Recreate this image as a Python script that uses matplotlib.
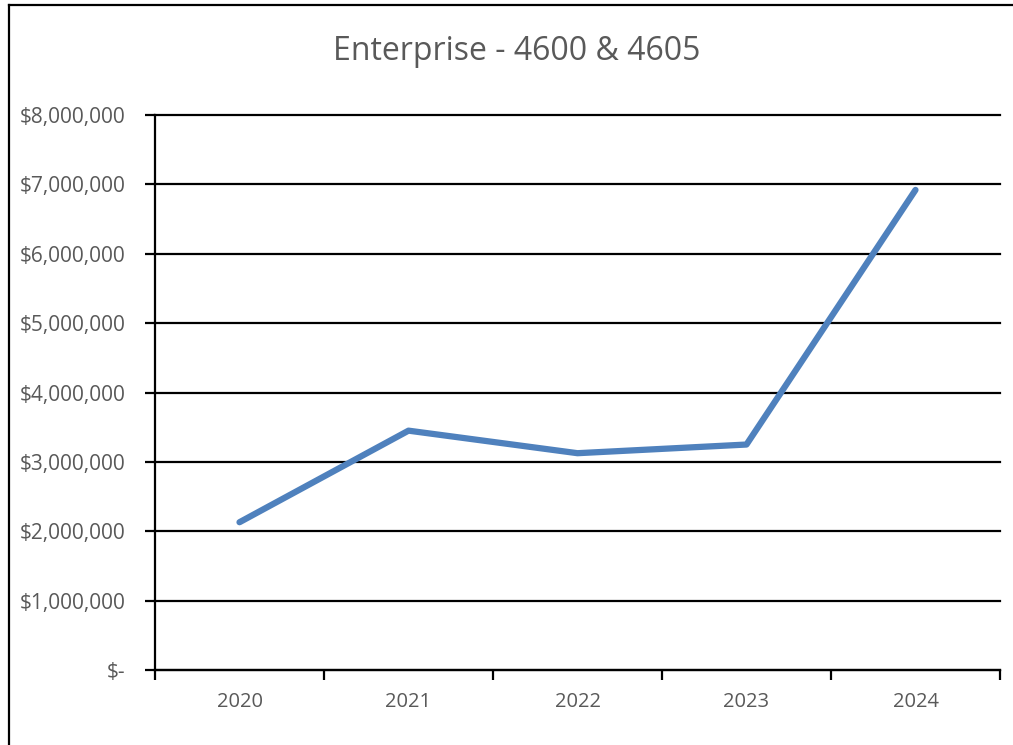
import matplotlib
matplotlib.use("Agg")
import matplotlib.pyplot as plt
from matplotlib.ticker import FuncFormatter, FixedLocator
from matplotlib.lines import Line2D

years = ["2020", "2021", "2022", "2023", "2024"]
values = [2130000, 3450000, 3125000, 3250000, 6920000]
title = "Enterprise - 4600 & 4605"
y_ticks = [0, 1000000, 2000000, 3000000, 4000000, 5000000, 6000000, 7000000, 8000000]

plt.rcParams['font.family'] = ['Open Sans', 'DejaVu Sans']
gray = "#595959"

fig = plt.figure(figsize=(10.13, 7.45), dpi=100)
ax = fig.add_axes([155/1013, 1-670/745, (1000-155)/1013, (670-115)/745])

x = list(range(len(years)))
ax.plot(x, values, color="#4F81BD", lw=4.5, solid_capstyle="round", solid_joinstyle="round", zorder=3)

ax.set_xlim(-0.5, len(years) - 0.5)
ax.set_ylim(0, 8000000)
ax.yaxis.set_major_locator(FixedLocator(y_ticks))
ax.yaxis.set_major_formatter(FuncFormatter(lambda v, p: "$-" if v == 0 else "${:,.0f}".format(v)))
ax.grid(axis="y", color="black", lw=1.6)
ax.set_axisbelow(True)
for gl in ax.get_ygridlines():
    gl.set_clip_on(False)

ax.set_xticks(x)
ax.set_xticklabels(years)
ax.set_xticks([i - 0.5 for i in range(len(years) + 1)], minor=True)
ax.tick_params(axis="x", which="major", length=0, pad=16, labelsize=14.5, labelcolor=gray)
ax.tick_params(axis="x", which="minor", length=7, width=1.6, color="black", direction="out")
ax.tick_params(axis="y", which="major", length=7, width=1.6, color="black", pad=14, labelsize=15, labelcolor=gray)

for s in ["top", "right"]:
    ax.spines[s].set_visible(False)
ax.spines["left"].set_linewidth(1.6)
ax.spines["bottom"].set_linewidth(1.6)

fig.text(517/1013, 1-51/745, title, ha="center", va="center", fontsize=23, color=gray)

# chart border (left and top visible)
fig.add_artist(Line2D([8.5/1013, 8.5/1013], [0, 1-5/745], transform=fig.transFigure, color="black", lw=1.6))
fig.add_artist(Line2D([8.5/1013, 1], [1-5/745, 1-5/745], transform=fig.transFigure, color="black", lw=1.6))

fig.savefig("out.png", dpi=100)
